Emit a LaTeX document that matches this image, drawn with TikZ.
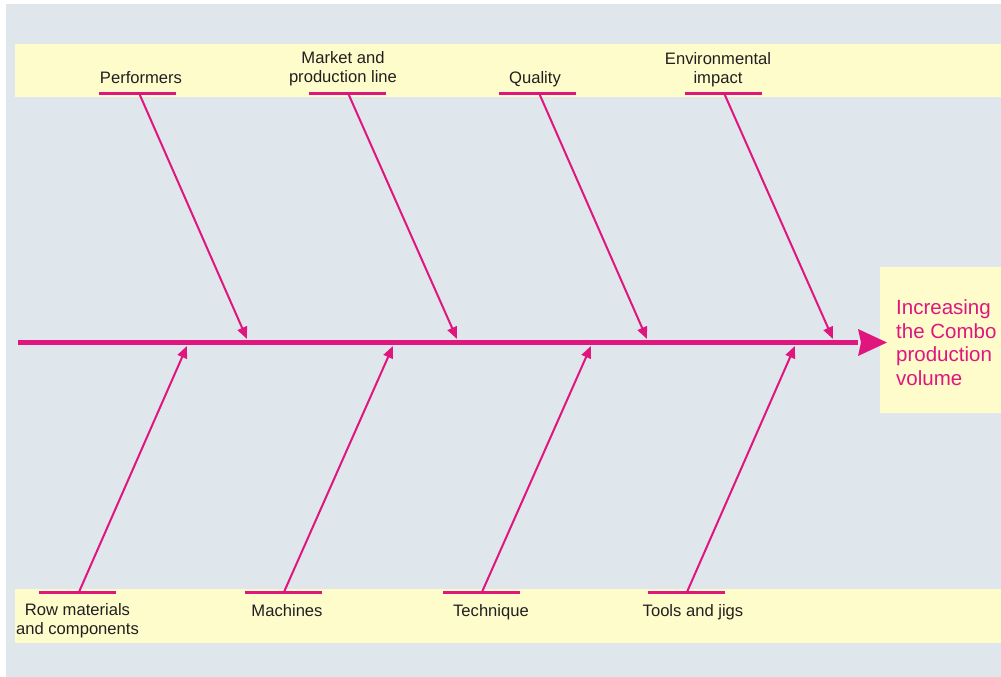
\documentclass[tikz,border=0pt]{standalone}
\usepackage{fontspec}
\setmainfont{Liberation Sans}
\usetikzlibrary{arrows.meta}
\definecolor{bgblue}{RGB}{223,230,236}
\definecolor{bandyellow}{RGB}{255,252,204}
\definecolor{fishred}{RGB}{224,22,126}
\definecolor{txtdark}{RGB}{35,31,32}
\tikzset{
  band/.style={fill=bandyellow, draw=none},
  bone/.style={draw=fishred, line width=2pt, -{Triangle[length=12pt,width=10pt]}},
  underl/.style={draw=fishred, line width=3pt},
  lbl/.style={font=\fontsize{16.6}{18.8}\selectfont, text=txtdark, align=center, inner sep=0pt, anchor=base},
  goal/.style={font=\fontsize{20.5}{23.5}\selectfont, text=fishred, align=left, inner sep=0pt, anchor=base west},
}
\begin{document}
\begin{tikzpicture}[x=1pt,y=-1pt]
\useasboundingbox (0,0) rectangle (1001,677);
\fill[white] (0,0) rectangle (1001,677);
\fill[bgblue] (6,4) rectangle (1001,677);
\fill[band] (15,44) rectangle (1001,97);
\fill[band] (15,589) rectangle (1001,643);
\fill[band] (880,267) rectangle (1001,413);
% spine
\coordinate (tail) at (18,342.5);
\coordinate (head) at (858,342.5);
\coordinate (headtip) at (887,342.5);
\draw[fishred, line width=5pt] (tail) -- (head);
\fill[fishred] (headtip) -- (858,329) -- (861,342.5) -- (858,356) -- cycle;
\node[goal] (goal) at (896,385) {Increasing\\the Combo\\production\\volume};
% top underlines
\foreach \n/\x in {p/99,m/309,q/499,e/685}{
  \coordinate (\n L) at (\x,93);
  \coordinate (\n R) at (\x+77,93);
  \draw[underl] (\n L) -- (\n R);
}
\foreach \n/\x in {r/39,c/245,t/443,j/648}{
  \coordinate (\n L) at (\x,592);
  \coordinate (\n R) at (\x+77,592);
  \draw[underl] (\n L) -- (\n R);
}
% branch start points and tips
\coordinate (pS) at (139,93);  \coordinate (pT) at (247,339);
\coordinate (mS) at (348,93);  \coordinate (mT) at (457,339);
\coordinate (qS) at (539,93);  \coordinate (qT) at (647,339);
\coordinate (eS) at (724,93);  \coordinate (eT) at (833,339);
\coordinate (rS) at (79,592);  \coordinate (rT) at (187,346);
\coordinate (cS) at (284,592); \coordinate (cT) at (393,346);
\coordinate (tS) at (482,592); \coordinate (tT) at (591,346);
\coordinate (jS) at (687,592); \coordinate (jT) at (795,346);
\foreach \n in {p,m,q,e,r,c,t,j}{
  \draw[bone] (\n S) -- (\n T);
}
% labels
\node[lbl] (perf) at (141,84) {Performers};
\node[lbl] (mark) at (343,82.5) {Market and\\production line};
\node[lbl] (qual) at (535,84) {Quality};
\node[lbl] (env) at (718,83.5) {Environmental\\impact};
\node[lbl] (row) at (77.5,634.5) {Row materials\\and components};
\node[lbl] (mach) at (287,616) {Machines};
\node[lbl] (tech) at (491,616) {Technique};
\node[lbl] (tools) at (693,616) {Tools and jigs};
\end{tikzpicture}
\end{document}
